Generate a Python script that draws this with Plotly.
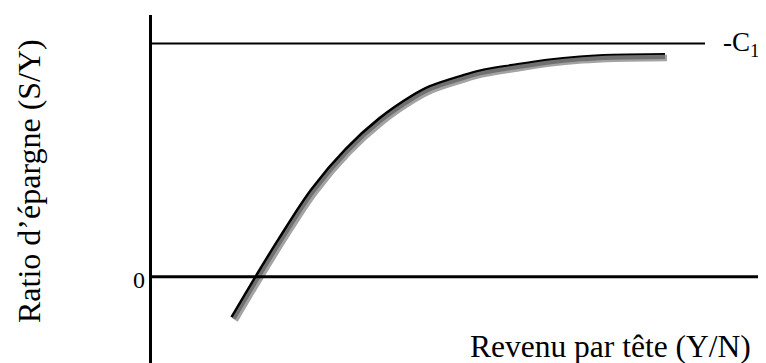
import plotly.graph_objects as go

# Data (arbitrary units: income vs saving ratio, -C1 level = 1)
revenu = [1.65, 2.14, 2.59, 3.25, 3.93, 4.59, 5.25, 5.59, 6.25, 6.59, 7.25, 7.93, 8.59, 9.25, 10.29]
ratio = [-0.177, 0.0, 0.157, 0.372, 0.543, 0.672, 0.770, 0.809, 0.856, 0.876, 0.900, 0.922, 0.936, 0.943, 0.946]
c1_level = 1.0
zero_level = 0.0
x_label = "Revenu par tête (Y/N)"
y_label = "Ratio d’épargne (S/Y)"
c1_label = "-C<sub>1</sub>"
zero_label = "0"

OFF = 8  # page body margin
W, H = 766 - OFF, 363 - OFF
xr = [-2.85, 12.31]
yr = [-0.370, 1.152]
px_per_x = W / (xr[1] - xr[0])
px_per_y = H / (yr[1] - yr[0])
sh = 2.0  # shadow offset in px


def px(xref_px):
    return (xref_px - OFF) / W


def py(yref_px):
    return 1 - (yref_px - OFF) / H


FONT = "Liberation Serif, Times New Roman, serif"

fig = go.Figure()
# shadow trace on offset axes
fig.add_trace(go.Scatter(x=revenu, y=ratio, mode="lines", xaxis="x2", yaxis="y2",
                         line=dict(color="rgba(140,140,140,0.8)", width=6.5, shape="spline", smoothing=1.0),
                         hoverinfo="skip", showlegend=False))
fig.add_trace(go.Scatter(x=revenu, y=ratio, mode="lines",
                         line=dict(color="black", width=6, shape="spline", smoothing=1.0),
                         showlegend=False))

fig.update_layout(
    width=W, height=H,
    margin=dict(l=0, r=0, t=0, b=0),
    paper_bgcolor="white", plot_bgcolor="white",
    xaxis=dict(range=xr, visible=False, fixedrange=True),
    yaxis=dict(range=yr, visible=False, fixedrange=True),
    xaxis2=dict(range=[xr[0] - sh / px_per_x, xr[1] - sh / px_per_x], visible=False,
                overlaying="x", fixedrange=True),
    yaxis2=dict(range=[yr[0] + sh / px_per_y, yr[1] + sh / px_per_y], visible=False,
                overlaying="y", fixedrange=True),
    shapes=[
        dict(type="line", xref="x", yref="y", x0=0, x1=0, y0=yr[0], y1=1.122,
             line=dict(color="black", width=3)),
        dict(type="line", xref="x", yref="y", x0=0, x1=12.19, y0=zero_level, y1=zero_level,
             line=dict(color="black", width=3)),
        dict(type="line", xref="x", yref="y", x0=0, x1=11.09, y0=c1_level, y1=c1_level,
             line=dict(color="black", width=2)),
    ],
    annotations=[
        dict(text=y_label, xref="paper", yref="paper", x=px(29), y=py(181),
             textangle=-90, showarrow=False, xanchor="center", yanchor="middle",
             font=dict(family=FONT, size=32, color="black")),
        dict(text=x_label, xref="paper", yref="paper", x=px(753), y=py(346),
             showarrow=False, xanchor="right", yanchor="middle",
             font=dict(family=FONT, size=31.5, color="black")),
        dict(text=c1_label, xref="paper", yref="paper", x=px(721), y=py(44),
             showarrow=False, xanchor="left", yanchor="middle",
             font=dict(family=FONT, size=27, color="black")),
        dict(text=zero_label, xref="paper", yref="paper", x=px(147), y=py(280),
             showarrow=False, xanchor="right", yanchor="middle",
             font=dict(family=FONT, size=24, color="black")),
    ],
)

fig.write_html("out.html")
